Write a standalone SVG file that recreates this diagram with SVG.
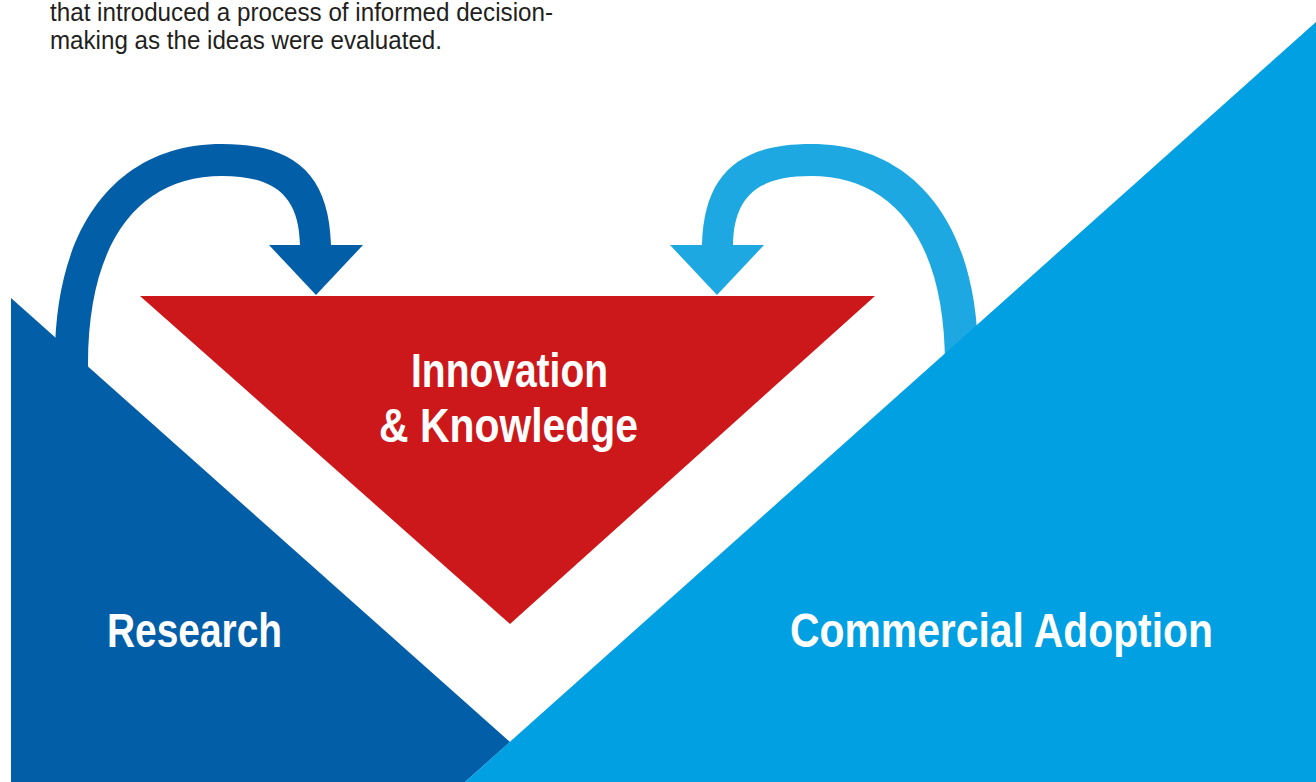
<svg xmlns="http://www.w3.org/2000/svg" width="1316" height="782" viewBox="0 0 1316 782">
  <style>
    .body { font-family: "Liberation Sans", Arial, sans-serif; font-size: 25px; fill: #231f20; }
    .label { font-family: "Liberation Sans", Arial, sans-serif; font-size: 48px; font-weight: bold; fill: #ffffff; }
  </style>
  <defs>
    <g id="loopArrow">
      <path d="M55,368 C52,225 118,144 222,144 C292,144 329,172 331,245 L300,245 C299,197 276,176 222,176 C140,176 87,240 88,368 Z"/>
      <polygon points="269,245 363,245 316,295"/>
    </g>
  </defs>
  <rect width="1316" height="782" fill="#ffffff"/>

  <g id="intro-text">
    <text class="body" x="50" y="21" textLength="503" lengthAdjust="spacingAndGlyphs">that introduced a process of informed decision-</text>
    <text class="body" x="50" y="49" textLength="392" lengthAdjust="spacingAndGlyphs">making as the ideas were evaluated.</text>
  </g>

  <g id="connectors">
    <use href="#loopArrow" fill="#035ea8"/>
    <use href="#loopArrow" fill="#1da8e2" transform="translate(1033,0) scale(-1,1)"/>
  </g>

  <g id="research">
    <polygon points="11,298 510,742 465,782 11,782" fill="#035ea8"/>
    <text class="label" x="107" y="647" textLength="175" lengthAdjust="spacingAndGlyphs">Research</text>
  </g>

  <g id="commercial-adoption">
    <polygon points="465,782 1316,22 1316,782" fill="#00a0e2"/>
    <text class="label" x="790" y="647" textLength="423" lengthAdjust="spacingAndGlyphs">Commercial Adoption</text>
  </g>

  <g id="innovation-knowledge">
    <polygon points="140,296 875,296 510,624" fill="#cc181b"/>
    <text class="label" x="411" y="387" textLength="197" lengthAdjust="spacingAndGlyphs">Innovation</text>
    <text class="label" x="379" y="442" textLength="259" lengthAdjust="spacingAndGlyphs">&amp; Knowledge</text>
  </g>
</svg>
